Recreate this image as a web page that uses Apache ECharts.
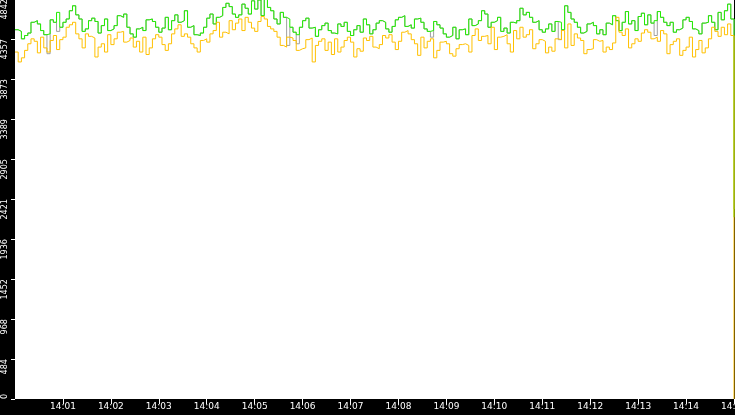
<!DOCTYPE html>
<html>
<head>
<meta charset="utf-8">
<script src="https://cdn.jsdelivr.net/npm/echarts@6/dist/echarts.min.js"></script>
<style>
html,body{margin:0;padding:0;background:#000;}
#chart{width:735px;height:415px;}
</style>
</head>
<body>
<div id="chart"></div>
<script>
// samples every 4 seconds, 14:00:00 .. 14:15:00
var startTime = '14:00:00';
var stepSeconds = 4;

var greenValues = [
    4470, 4450, 4360, 4400, 4430, 4560, 4580, 4540, 4460, 4410,
    4420, 4590, 4560, 4680, 4500, 4560, 4600, 4700, 4760, 4650,
    4600, 4450, 4480, 4580, 4610, 4570, 4430, 4520, 4600, 4460,
    4480, 4520, 4640, 4620, 4660, 4500, 4420, 4380, 4480, 4500,
    4460, 4590, 4600, 4570, 4500, 4440, 4490, 4620, 4470, 4580,
    4650, 4560, 4580, 4700, 4500, 4520, 4410, 4400, 4430, 4500,
    4610, 4660, 4540, 4620, 4640, 4740, 4790, 4750, 4660, 4620,
    4650, 4780, 4730, 4660, 4820, 4720, 4830, 4640, 4840, 4740,
    4700, 4600, 4540, 4680, 4620, 4600, 4500, 4440, 4410, 4500,
    4580, 4610, 4490, 4500, 4390, 4470, 4520, 4550, 4460, 4430,
    4420, 4540, 4510, 4560, 4450, 4400, 4470, 4520, 4440, 4600,
    4530, 4420, 4470, 4550, 4580, 4560, 4480, 4440, 4510, 4590,
    4620, 4640, 4510, 4530, 4490, 4600, 4610, 4560, 4480, 4450,
    4460, 4570, 4530, 4490, 4420, 4380, 4400, 4500, 4360, 4470,
    4480, 4410, 4600, 4520, 4540, 4580, 4700, 4660, 4500, 4560,
    4580, 4620, 4450, 4490, 4430, 4560, 4550, 4580, 4730, 4650,
    4680, 4620, 4560, 4580, 4470, 4440, 4480, 4540, 4450, 4570,
    4560, 4470, 4760, 4680, 4600, 4560, 4500, 4430, 4450, 4540,
    4560, 4520, 4420, 4470, 4410, 4550, 4530, 4640, 4580, 4460,
    4560, 4690, 4540, 4580, 4460, 4630, 4670, 4530, 4650, 4550,
    4580, 4690, 4620, 4560, 4520, 4560, 4440, 4470, 4490, 4590,
    4620, 4570, 4480, 4460, 4420, 4550, 4560, 4640, 4560, 4470,
    4680, 4590, 4700, 4780, 4600, 2200
];

// gray mostly sits under the green trace
var grayValues = [
    4470, 4450, 4360, 4400, 4430, 4560, 4580, 4540, 4460, 4410,
    4180, 4590, 4560, 4450, 4500, 4560, 4600, 4700, 4760, 4650,
    4600, 4450, 4480, 4580, 4610, 4570, 4430, 4520, 4600, 4460,
    4480, 4520, 4640, 4620, 4660, 4500, 4420, 4380, 4480, 4500,
    4460, 4590, 4600, 4570, 4500, 4440, 4490, 4620, 4470, 4580,
    4650, 4560, 4580, 4700, 4500, 4520, 4410, 4400, 4430, 4500,
    4610, 4660, 4540, 4620, 4640, 4740, 4790, 4750, 4660, 4620,
    4650, 4780, 4730, 4660, 4820, 4720, 4830, 4640, 4840, 4740,
    4700, 4600, 4540, 4680, 4620, 4280, 4500, 4440, 4300, 4500,
    4580, 4610, 4490, 4500, 4390, 4470, 4520, 4550, 4460, 4430,
    4420, 4540, 4510, 4560, 4450, 4400, 4470, 4520, 4440, 4600,
    4530, 4420, 4470, 4550, 4580, 4560, 4480, 4440, 4510, 4590,
    4620, 4640, 4510, 4530, 4490, 4600, 4610, 4560, 4480, 4450,
    4380, 4570, 4530, 4490, 4420, 4380, 4400, 4500, 4360, 4470,
    4480, 4410, 4600, 4520, 4540, 4580, 4700, 4660, 4500, 4560,
    4580, 4620, 4450, 4490, 4430, 4560, 4550, 4580, 4730, 4650,
    4680, 4620, 4560, 4580, 4470, 4440, 4480, 4540, 4450, 4570,
    4350, 4470, 4760, 4680, 4600, 4560, 4500, 4430, 4450, 4540,
    4560, 4520, 4420, 4470, 4410, 4550, 4530, 4640, 4580, 4460,
    4560, 4690, 4540, 4580, 4460, 4630, 4670, 4530, 4650, 4550,
    4400, 4690, 4620, 4560, 4520, 4560, 4440, 4470, 4490, 4590,
    4620, 4570, 4480, 4460, 4420, 4550, 4560, 4640, 4560, 4470,
    4680, 4590, 4700, 4780, 4600, 2300
];

var orangeValues = [
    4200, 4080, 4130, 4220, 4300, 4360, 4330, 4190, 4380, 4250,
    4200, 4340, 4400, 4230, 4350, 4380, 4500, 4530, 4560, 4420,
    4360, 4250, 4420, 4390, 4370, 4140, 4260, 4300, 4200, 4410,
    4290, 4360, 4440, 4450, 4320, 4340, 4370, 4260, 4330, 4200,
    4380, 4170, 4250, 4360, 4410, 4380, 4290, 4220, 4300, 4420,
    4480, 4530, 4390, 4420, 4380, 4300, 4250, 4200, 4340, 4360,
    4320, 4420, 4460, 4560, 4380, 4440, 4420, 4580, 4470, 4550,
    4600, 4460, 4620, 4560, 4490, 4450, 4570, 4630, 4600, 4510,
    4480, 4450, 4380, 4280, 4260, 4380, 4370, 4340, 4220, 4240,
    4250, 4350, 4370, 4080, 4280, 4330, 4360, 4220, 4320, 4170,
    4360, 4200, 4260, 4340, 4380, 4320, 4140, 4240, 4210, 4370,
    4340, 4390, 4260, 4240, 4290, 4400, 4370, 4410, 4320, 4230,
    4330, 4440, 4460, 4420, 4350, 4300, 4160, 4380, 4250, 4330,
    4360, 4130, 4220, 4320, 4330, 4300, 4180, 4150, 4240, 4290,
    4300, 4280, 4200, 4400, 4480, 4340, 4390, 4400, 4300, 4500,
    4230, 4380, 4390, 4410, 4300, 4200, 4460, 4360, 4500, 4380,
    4410, 4470, 4240, 4300, 4350, 4330, 4190, 4260, 4210, 4360,
    4350, 4460, 4250, 4540, 4280, 4420, 4370, 4340, 4180, 4230,
    4240, 4350, 4330, 4340, 4200, 4260, 4230, 4310, 4620, 4440,
    4400, 4480, 4250, 4300, 4360, 4330, 4430, 4470, 4440, 4360,
    4380, 4330, 4460, 4420, 4180, 4290, 4330, 4360, 4160, 4220,
    4260, 4380, 4140, 4230, 4340, 4190, 4250, 4360, 4500, 4450,
    4390, 4500, 4410, 4540, 4400, 0
];

var yMin = 0;
var yMax = 4842;
var yStep = 484.2;

function pad(n) {
    return (n < 10 ? '0' : '') + n;
}

// time categories
var times = [];
(function () {
    var p = startTime.split(':');
    var base = (+p[0]) * 3600 + (+p[1]) * 60 + (+p[2]);
    for (var i = 0; i < greenValues.length; i++) {
        var s = base + i * stepSeconds;
        times.push(pad(Math.floor(s / 3600)) + ':' + pad(Math.floor(s / 60) % 60) + ':' + pad(s % 60));
    }
})();

function minuteTick(index) {
    return index > 0 && index % 15 === 0;
}

function lineSeries(name, values, color, z) {
    return {
        name: name,
        type: 'line',
        data: values,
        step: 'end',
        showSymbol: false,
        lineStyle: {color: color, width: 1},
        itemStyle: {color: color},
        emphasis: {disabled: true},
        z: z
    };
}

var chart = echarts.init(document.getElementById('chart'));
var option = {
    animation: false,
    backgroundColor: '#000',
    grid: {
        left: 15,
        right: 1,
        top: -1,
        bottom: 16,
        containLabel: false,
        outerBoundsMode: 'none',
        show: true,
        backgroundColor: '#fff',
        borderWidth: 0
    },
    xAxis: {
        type: 'category',
        boundaryGap: false,
        data: times,
        axisLine: {show: false},
        axisTick: {
            show: true,
            interval: minuteTick,
            length: 5,
            lineStyle: {color: '#fff', width: 1}
        },
        axisLabel: {
            interval: minuteTick,
            color: '#fff',
            fontFamily: 'DejaVu Sans',
            fontSize: 9,
            margin: 3,
            formatter: function (v) {
                return v.substring(0, 5);
            }
        },
        splitLine: {show: false}
    },
    yAxis: {
        type: 'value',
        min: yMin,
        max: yMax,
        interval: yStep,
        axisLine: {show: false},
        axisTick: {
            show: true,
            length: 4,
            lineStyle: {color: '#fff', width: 1}
        },
        axisLabel: {
            rotate: 90,
            align: 'right',
            alignMinLabel: 'left',
            color: '#fff',
            fontFamily: 'DejaVu Sans Condensed',
            fontSize: 9,
            margin: 6,
            formatter: function (v) {
                return String(Math.floor(v + 0.001));
            }
        },
        splitLine: {show: false}
    },
    series: [
        lineSeries('gray', grayValues, '#a0a0a0', 1),
        lineSeries('green', greenValues, '#22ee00', 2),
        lineSeries('orange', orangeValues, '#ffc000', 3)
    ]
};
chart.setOption(option);
</script>
</body>
</html>
